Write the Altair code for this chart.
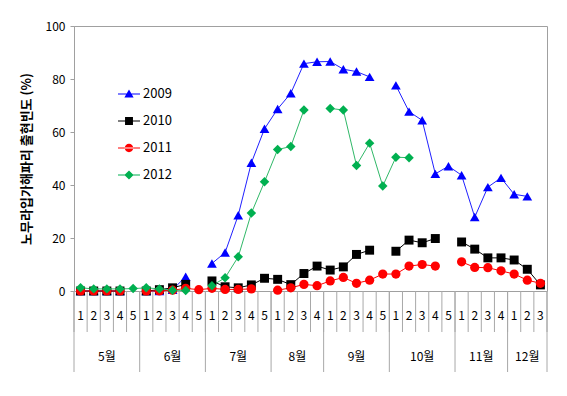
import altair as alt
import pandas as pd

# ---- data ----
months = ["5월", "6월", "7월", "8월", "9월", "10월", "11월", "12월"]
weeks_per_month = [5, 5, 5, 4, 5, 5, 4, 3]
week_labels = ["1", "2", "3", "4", "5", "1", "2", "3", "4", "5",
               "1", "2", "3", "4", "5", "1", "2", "3", "4",
               "1", "2", "3", "4", "5", "1", "2", "3", "4", "5",
               "1", "2", "3", "4", "1", "2", "3"]
years = ["2009", "2010", "2011", "2012"]

y2009 = [0, 0, 0, 0, None, 0, 0, 0.5, 5.4, None,
         10.4, 14.5, 28.6, 48.4, 61.2, 68.7, 74.6, 85.8, 86.5,
         86.6, 83.7, 82.8, 80.8, None, 77.6, 67.7, 64.4, 44.2, 47.1,
         43.7, 27.9, 39.2, 42.7, 36.5, 35.7, None]
y2010 = [0, 0, 0, 0, None, 0, 0.5, 1.2, 2.5, None,
         3.8, 1.6, 1.2, 2.3, 4.8, 4.4, 2.4, 6.6, 9.4,
         7.9, 9.1, 13.8, 15.4, None, 15.0, 19.2, 18.2, 19.8, None,
         18.5, 15.8, 12.5, 12.5, 11.7, 8.2, 2.3]
y2011 = [0, 0, 0, 0, None, 0, 0, 0.3, 1.0, 0.5,
         1.0, 0.6, 0.6, 0.8, None, 0.3, 1.2, 2.5, 2.0,
         3.8, 5.1, 2.9, 4.1, 6.4, 6.4, 9.4, 10.0, 9.4, None,
         11.0, 8.9, 8.8, 7.6, 6.4, 4.1, 2.9]
y2012 = [1.2, 0.8, 0.8, 0.8, 0.9, 1.2, 0.8, 0.3, 0.2, None,
         2.0, 5.0, 12.9, 29.4, 41.2, 53.4, 54.5, 68.3, None,
         68.9, 68.3, 47.4, 55.8, 39.6, 50.5, 50.3, None, None, None,
         None, None, None, None, None, None, None]
series = {"2009": y2009, "2010": y2010, "2011": y2011, "2012": y2012}

# ---- styles ----
marker_color = {"2009": "#0000FF", "2010": "#000000", "2011": "#FF0000", "2012": "#00B050"}
line_color = {"2009": "#2020FF", "2010": "#000000", "2011": "#FF0000", "2012": "#30B868"}
marker_shape = {"2009": "triangle-up", "2010": "square", "2011": "circle", "2012": "diamond"}
marker_size = {"2009": 95, "2010": 80, "2011": 85, "2012": 90}
# custom legend symbols (line + marker); vega scales custom paths by sqrt(size)/2
legend_paths = [
    "M-1,-0.05H1V0.05H-1Z M0,-0.42L0.42,0.32H-0.42Z",
    "M-1,-0.05H1V0.05H-1Z M-0.36,-0.36H0.36V0.36H-0.36Z",
    "M-1,-0.05H1V0.05H-1Z M-0.38,0A0.38,0.38,0,1,0,0.38,0A0.38,0.38,0,1,0,-0.38,0Z",
    "M-1,-0.05H1V0.05H-1Z M0,-0.42L0.42,0L0,0.42L-0.42,0Z",
]

FONT = "Noto Sans CJK KR"
n_cat = len(week_labels)

rows = []
for yr in years:
    seg = 0
    for i, v in enumerate(series[yr]):
        if v is None:
            seg += 1
            continue
        rows.append({"year": yr, "x": i + 0.5, "v": v, "seg": f"{yr}-{seg}"})
df = pd.DataFrame(rows)

week_df = pd.DataFrame({"x": [i + 0.5 for i in range(n_cat)], "label": week_labels})
bounds = [0]
for w in weeks_per_month:
    bounds.append(bounds[-1] + w)
month_df = pd.DataFrame({
    "x": [(bounds[k] + bounds[k + 1]) / 2 for k in range(len(months))],
    "label": months,
})
week_bound_df = pd.DataFrame({"b": list(range(n_cat + 1))})
month_bound_df = pd.DataFrame({"b": bounds})

xscale = alt.Scale(domain=[0, n_cat], nice=False, zero=False)
yscale = alt.Scale(domain=[0, 100], nice=False)
yaxis = alt.Axis(values=[0, 20, 40, 60, 80, 100], grid=False,
                 title="노무라입가해파리 출현빈도 (%)", titleFontSize=13,
                 titleFontWeight="bold", titleFont=FONT, titleColor="#000000",
                 titlePadding=12, labelFontSize=12, labelFont=FONT,
                 labelColor="#000000", labelPadding=5, tickSize=4,
                 tickColor="#A0A0A0", domainColor="#A0A0A0")

H = 265
week_rules = alt.Chart(week_bound_df).mark_rule(color="#A8A8A8", strokeWidth=1).encode(
    x=alt.X("b:Q", scale=xscale, axis=None), y=alt.value(H), y2=alt.value(306))
month_rules = alt.Chart(month_bound_df).mark_rule(color="#A8A8A8", strokeWidth=1).encode(
    x=alt.X("b:Q", scale=xscale, axis=None), y=alt.value(H), y2=alt.value(346))
week_text = alt.Chart(week_df).mark_text(fontSize=12, font=FONT, baseline="middle", color="#000000").encode(
    x=alt.X("x:Q", scale=xscale, axis=None), y=alt.value(290), text="label:N")
month_text = alt.Chart(month_df).mark_text(fontSize=12, font=FONT, baseline="middle", color="#000000").encode(
    x=alt.X("x:Q", scale=xscale, axis=None), y=alt.value(331), text="label:N")

layers = [week_rules, month_rules, week_text, month_text]
base = alt.Chart(df)
for yr in years:
    layers.append(
        base.transform_filter(alt.datum.year == yr)
        .mark_line(color=line_color[yr], strokeWidth=1)
        .encode(x=alt.X("x:Q", scale=xscale, axis=None),
                y=alt.Y("v:Q", scale=yscale, axis=yaxis),
                detail="seg:N", order="x:Q")
    )
for yr in years:
    layers.append(
        base.transform_filter(alt.datum.year == yr)
        .mark_point(shape=marker_shape[yr], filled=True, color=marker_color[yr],
                    size=marker_size[yr], opacity=1)
        .encode(x=alt.X("x:Q", scale=xscale, axis=None),
                y=alt.Y("v:Q", scale=yscale, axis=yaxis))
    )

legend_layer = base.transform_filter("datum.v < -1000").mark_point(filled=True, size=484, opacity=1).encode(
    x=alt.X("x:Q", scale=xscale, axis=None),
    y=alt.Y("v:Q", scale=yscale, axis=yaxis),
    color=alt.Color("year:N", scale=alt.Scale(domain=years, range=[marker_color[y] for y in years]),
                    legend=alt.Legend(title=None)),
    shape=alt.Shape("year:N", scale=alt.Scale(domain=years, range=legend_paths),
                    legend=alt.Legend(title=None, orient="none", legendX=44, legendY=57,
                                      symbolSize=484, symbolStrokeWidth=0, symbolOpacity=1,
                                      labelFontSize=13, labelFont=FONT, labelColor="#000000",
                                      rowPadding=9, labelOffset=3, padding=0)),
)
layers.append(legend_layer)

chart = alt.layer(*layers).properties(
    width=473, height=H,
    autosize=alt.AutoSizeParams(type="none"),
    padding={"left": 66, "top": 18, "right": 12, "bottom": 90},
).configure_view(stroke="#A0A0A0", strokeWidth=1).configure_legend(
    orient="none", legendX=44, legendY=57, symbolSize=484, symbolStrokeWidth=0,
    labelFontSize=13, labelFont=FONT, rowPadding=9, padding=0
)

chart.save("out.html", embed_options={"renderer": "svg", "actions": False})
